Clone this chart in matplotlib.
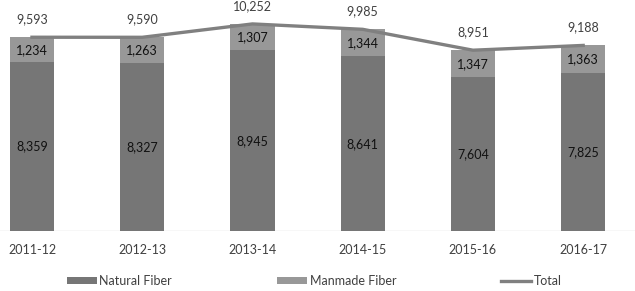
import matplotlib
matplotlib.use("Agg")
import matplotlib.pyplot as plt
import numpy as np

# data
years = ["2011-12", "2012-13", "2013-14", "2014-15", "2015-16", "2016-17"]
natural = [8359, 8327, 8945, 8641, 7604, 7825]
manmade = [1234, 1263, 1307, 1344, 1347, 1363]
total = [9593, 9590, 10252, 9985, 8951, 9188]

plt.rcParams['font.family'] = ['Lato', 'DejaVu Sans']

fig = plt.figure(figsize=(6.35, 2.91), dpi=100)
ax = fig.add_axes([0, 0.206, 1, 0.794])

x = np.arange(len(years))
w = 0.4
b1 = ax.bar(x, natural, w, color="#767676", label="Natural Fiber", zorder=2)
b2 = ax.bar(x, manmade, w, bottom=natural, color="#989898", label="Manmade Fiber", zorder=2)
ln, = ax.plot(x, total, color="#808080", lw=2.4, label="Total", zorder=3)

# labels
for i in range(len(years)):
    ax.text(x[i], natural[i] / 2, f"{natural[i]:,}", ha="center", va="center",
            fontsize=9, color="#111111", zorder=4)
    ax.text(x[i], natural[i] + manmade[i] / 2, f"{manmade[i]:,}", ha="center",
            va="center", fontsize=9, color="#111111", zorder=4)
    ax.annotate(f"{total[i]:,}", (x[i], total[i]), xytext=(0, 13),
                textcoords="offset points", ha="center", va="center",
                fontsize=9, color="#404040")

ax.axhline(0, color="#d9d9d9", lw=1, zorder=1)
ax.set_xlim(-0.29, 5.47)
ax.set_ylim(0, 11436)
ax.set_xticks(x)
ax.set_xticklabels(years, fontsize=9, color="#404040")
ax.tick_params(axis="x", length=0, pad=9)
ax.set_yticks([])
for s in ax.spines.values():
    s.set_visible(False)

fig.legend(handles=[b1, b2, ln], loc="center", bbox_to_anchor=(0.495, 0.035),
           ncol=3, frameon=False, fontsize=9, columnspacing=8.4,
           handlelength=2.4, handletextpad=0.2, handleheight=0.45,
           labelcolor="#404040")

fig.savefig("out.png", dpi=100)
